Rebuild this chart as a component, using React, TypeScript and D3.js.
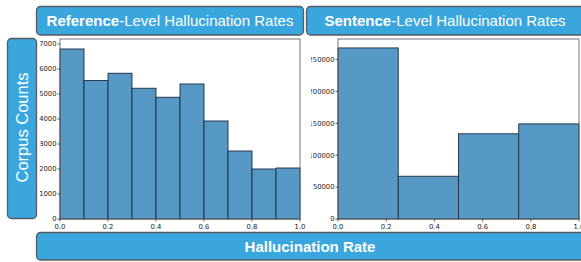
import React from "react";
import { scaleLinear, format } from "d3";

const refBins = [0, 0.1, 0.2, 0.3, 0.4, 0.5, 0.6, 0.7, 0.8, 0.9, 1.0];
const refCounts = [6800, 5540, 5830, 5230, 4870, 5400, 3920, 2720, 2000, 2040];
const refTicks = [0, 1000, 2000, 3000, 4000, 5000, 6000, 7000];

const sentBins = [0, 0.25, 0.5, 0.75, 1.0];
const sentCounts = [268000, 67000, 133500, 149000];
const sentTicks = [0, 50000, 100000, 150000, 200000, 250000];

const xTicks = [0, 0.2, 0.4, 0.6, 0.8, 1.0];

const BLUE = "#3aa6de";
const BOX_EDGE = "#555b60";
const BAR = "#5698c6";
const BAR_EDGE = "#1e2d3c";
const TICK_FONT = "DejaVu Sans, sans-serif";
const LABEL_FONT = "Liberation Sans, Arial, sans-serif";

type HistProps = {
  x0: number;
  x1: number;
  bins: number[];
  counts: number[];
  ticks: number[];
  yMax: number;
  clipLeft?: number;
  id: string;
};

const Hist = ({ x0, x1, bins, counts, ticks, yMax, clipLeft, id }: HistProps) => {
  const top = 39;
  const bottom = 219;
  const x = scaleLinear().domain([0, 1]).range([x0, x1]);
  const y = scaleLinear().domain([0, yMax]).range([bottom, top]);
  const fx = format(".1f");
  return (
    <g clipPath={clipLeft != null ? `url(#${id})` : undefined}>
      {clipLeft != null && (
        <defs>
          <clipPath id={id}>
            <rect x={clipLeft} y={0} width={600} height={262} />
          </clipPath>
        </defs>
      )}
      <rect x={x0} y={top} width={x1 - x0} height={bottom - top} fill="#fff" />
      {counts.map((c, i) => (
        <rect
          key={i}
          x={x(bins[i])}
          y={y(c)}
          width={x(bins[i + 1]) - x(bins[i])}
          height={bottom - y(c)}
          fill={BAR}
          stroke={BAR_EDGE}
          strokeWidth={0.9}
        />
      ))}
      <rect x={x0} y={top} width={x1 - x0} height={bottom - top} fill="none" stroke="#666" strokeWidth={0.9} />
      {ticks.map((t) => (
        <g key={t}>
          <line x1={x0 - 2.5} x2={x0} y1={y(t)} y2={y(t)} stroke="#333" strokeWidth={0.8} />
          <text x={x0 - 3.5} y={y(t)} dy="0.35em" textAnchor="end" fontSize={6.8} fontFamily={TICK_FONT} fill="#222">
            {t}
          </text>
        </g>
      ))}
      {xTicks.map((t) => (
        <g key={t}>
          <line x1={x(t)} x2={x(t)} y1={bottom} y2={bottom + 2.5} stroke="#333" strokeWidth={0.8} />
          <text x={x(t)} y={bottom + 9.5} textAnchor="middle" fontSize={6.8} fontFamily={TICK_FONT} fill="#222">
            {fx(t)}
          </text>
        </g>
      ))}
    </g>
  );
};

const App = () => {
  const width = 581;
  const height = 262;
  return (
    <svg width={width} height={height} style={{ position: "absolute", left: 0, top: 0 }}>
      <rect width={width} height={height} fill="#fff" />
      <Hist x0={60} x1={300} bins={refBins} counts={refCounts} ticks={refTicks} yMax={7200} id="c1" />
      <Hist
        x0={338}
        x1={579}
        bins={sentBins}
        counts={sentCounts}
        ticks={sentTicks}
        yMax={282000}
        clipLeft={311}
        id="c2"
      />

      {/* title boxes */}
      <rect x={36.5} y={6.5} width={267} height={28.5} rx={4} fill={BLUE} stroke={BOX_EDGE} strokeWidth={1.3} />
      <text x={170} y={25.5} textAnchor="middle" fontSize={15} fontFamily={LABEL_FONT} fill="#fff">
        <tspan fontWeight={700}>Reference</tspan>-Level Hallucination Rates
      </text>
      <rect x={306.5} y={6.5} width={290} height={28.5} rx={4} fill={BLUE} stroke={BOX_EDGE} strokeWidth={1.3} />
      <text x={445} y={25.5} textAnchor="middle" fontSize={15} fontFamily={LABEL_FONT} fill="#fff">
        <tspan fontWeight={700}>Sentence</tspan>-Level Hallucination Rates
      </text>

      {/* y label box */}
      <rect x={7.5} y={38.5} width={29} height={180} rx={4} fill={BLUE} stroke={BOX_EDGE} strokeWidth={1.3} />
      <text
        transform={`translate(27.5,127.5) rotate(-90)`}
        textAnchor="middle"
        fontSize={16.5}
        fontFamily={LABEL_FONT}
        fill="#fff"
      >
        Corpus Counts
      </text>

      {/* x label box */}
      <rect x={36.5} y={232.5} width={560} height={27.5} rx={4} fill={BLUE} stroke={BOX_EDGE} strokeWidth={1.3} />
      <text x={310} y={251.5} textAnchor="middle" fontSize={15} fontWeight={700} fontFamily={LABEL_FONT} fill="#fff">
        Hallucination Rate
      </text>
    </svg>
  );
};

export default App;
